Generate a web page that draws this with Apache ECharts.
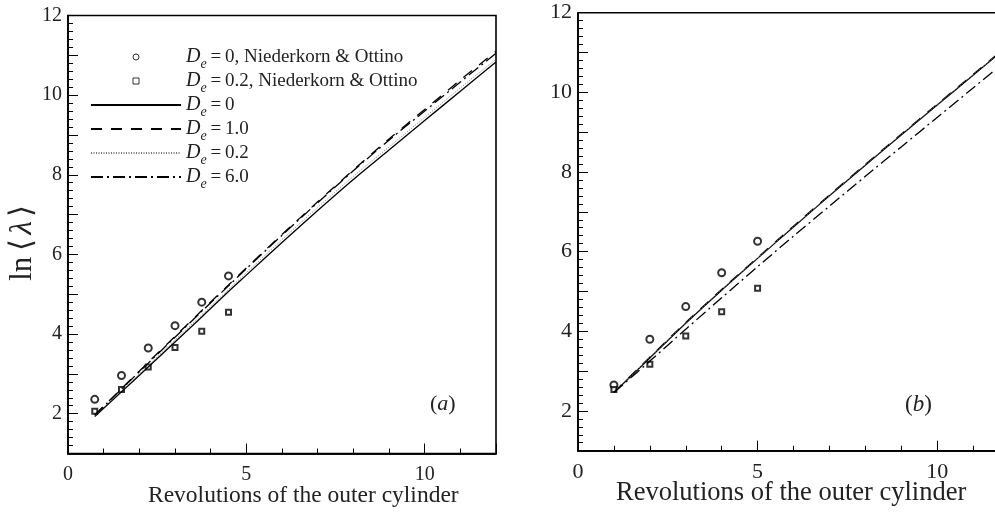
<!DOCTYPE html>
<html>
<head>
<meta charset="utf-8">
<script src="https://cdn.jsdelivr.net/npm/echarts@6/dist/echarts.min.js"></script>
<style>
  html, body { margin: 0; background: #fff; }
  #main { width: 995px; height: 519px; }
</style>
</head>
<body>
<div id="main"></div>
<script>
// panel (a): Niederkorn & Ottino points and computed curves
var obsXA = [0.75, 1.5, 2.25, 3, 3.75, 4.5];
var circA = [2.36, 2.96, 3.65, 4.21, 4.80, 5.46];
var sqA = [2.06, 2.61, 3.17, 3.66, 4.07, 4.55];
var simXA = [0.75, 1.5, 2.25, 3, 3.75, 4.5, 5, 6, 7, 8, 9, 10, 11, 12];
var solidA = [1.93, 2.55, 3.17, 3.8, 4.43, 5.07, 5.48, 6.3, 7.1, 7.88, 8.62, 9.36, 10.1, 10.83];
var dashA = [1.97, 2.63, 3.29, 3.94, 4.59, 5.23, 5.66, 6.5, 7.32, 8.12, 8.9, 9.64, 10.38, 11.1];
var dotA = [1.94, 2.58, 3.21, 3.85, 4.48, 5.12, 5.54, 6.37, 7.18, 7.96, 8.7, 9.44, 10.18, 10.9];
var dashDotA = [1.96, 2.62, 3.27, 3.92, 4.57, 5.21, 5.64, 6.48, 7.3, 8.1, 8.87, 9.6, 10.33, 11.05];

// panel (b)
var obsXB = [1, 2, 3, 4, 5];
var circB = [2.65, 3.8, 4.62, 5.47, 6.26];
var sqB = [2.54, 3.17, 3.88, 4.49, 5.08];
var simXB = [1, 2, 3, 4, 5, 6, 7, 8, 9, 10, 11, 12];
var solidB = [2.46, 3.33, 4.2, 5.03, 5.83, 6.62, 7.4, 8.17, 8.93, 9.68, 10.43, 11.18];
var dashB = [2.47, 3.35, 4.22, 5.05, 5.85, 6.64, 7.42, 8.19, 8.95, 9.7, 10.45, 11.2];
var dotB = [2.47, 3.34, 4.21, 5.04, 5.84, 6.63, 7.41, 8.18, 8.94, 9.69, 10.44, 11.19];
var dashDotB = [2.46, 3.25, 4.05, 4.84, 5.62, 6.39, 7.14, 7.89, 8.63, 9.37, 10.11, 10.85];

var xTickLabels = [0, 5, 10];
var yTickLabels = [2, 4, 6, 8, 10, 12];

var FONT = 'Liberation Serif';
var legendText = {
  circ: '{d|D}{s|e}{t|\u2009=\u20090, Niederkorn & Ottino}',
  sq: '{d|D}{s|e}{t|\u2009=\u20090.2, Niederkorn & Ottino}',
  solid: '{d|D}{s|e}{t|\u2009=\u20090}',
  dash: '{d|D}{s|e}{t|\u2009=\u20091.0}',
  dot: '{d|D}{s|e}{t|\u2009=\u20090.2}',
  dashdot: '{d|D}{s|e}{t|\u2009=\u20096.0}'
};

function pairs(xs, ys) {
  return xs.map(function (x, i) { return [x, ys[i]]; });
}

var panels = [
  { left: 68, top: 15.5, width: 428, height: 438 },
  { left: 578, top: 12.7, width: 431, height: 438 }
];
var labelSize = [20, 22];

var grids = [], xAxes = [], yAxes = [], series = [];

// grids 0,1: frames, labels and data; grids 2,3: same rectangles, ticks only
panels.forEach(function (p, gi) {
  grids.push({
    left: p.left, top: p.top, width: p.width, height: p.height,
    show: true, borderColor: '#000', borderWidth: 1.6,
    outerBoundsMode: 'none', containLabel: false
  });
  xAxes.push({
    type: 'value', gridIndex: gi, min: 0, max: 12, interval: 1,
    axisLine: { show: false },
    splitLine: { show: false },
    axisTick: { show: false },
    axisLabel: {
      margin: 11, fontFamily: FONT, fontSize: labelSize[gi], color: '#222',
      formatter: function (v) { return xTickLabels.indexOf(v) >= 0 ? String(v) : ''; }
    }
  });
  yAxes.push({
    type: 'value', gridIndex: gi, min: 1, max: 12, interval: 1,
    axisLine: { show: false },
    splitLine: { show: false },
    axisTick: { show: false },
    axisLabel: {
      margin: 6, fontFamily: FONT, fontSize: labelSize[gi], color: '#222',
      formatter: function (v) { return yTickLabels.indexOf(v) >= 0 ? String(v) : ''; }
    }
  });
});

panels.forEach(function (p, pi) {
  var gi = pi + 2;
  grids.push({
    left: p.left, top: p.top, width: p.width, height: p.height,
    show: false, outerBoundsMode: 'none', containLabel: false
  });
  // short ticks every revolution
  xAxes.push({
    type: 'value', gridIndex: gi, min: 0, max: 12, interval: 1,
    axisLine: { show: true, onZero: false, lineStyle: { color: '#000', width: 1.6 } },
    splitLine: { show: false },
    axisTick: { show: true, inside: true, length: 5, lineStyle: { color: '#000', width: 1 } },
    axisLabel: { show: false }
  });
  // top axis moved onto the bottom edge for the long ticks at 0, 5, 10
  xAxes.push({
    type: 'value', gridIndex: gi, position: 'top', offset: -p.height,
    min: 0, max: 12, interval: 5,
    axisLine: { show: true, onZero: false, lineStyle: { color: '#000', width: 1.6 } },
    splitLine: { show: false },
    axisTick: { show: true, inside: false, length: 10, lineStyle: { color: '#000', width: 1 } },
    axisLabel: { show: false }
  });
  yAxes.push({
    type: 'value', gridIndex: gi, min: 1, max: 12, interval: 1,
    axisLine: { show: true, onZero: false, lineStyle: { color: '#000', width: 1.6 } },
    splitLine: { show: false },
    axisTick: { show: true, inside: true, length: 10, lineStyle: { color: '#000', width: 1 } },
    minorTick: { show: true, splitNumber: 5, length: 5, lineStyle: { color: '#000', width: 1 } },
    axisLabel: { show: false }
  });
});

function addPanel(gi, obsX, circ, sq, simX, solid, dash, dot, dashDot) {
  series.push({
    name: 'circ', type: 'scatter', xAxisIndex: gi, yAxisIndex: gi,
    symbol: 'emptyCircle', symbolSize: 7,
    itemStyle: { color: '#000', borderColor: '#000', borderWidth: 1 },
    data: pairs(obsX, circ)
  });
  series.push({
    name: 'sq', type: 'scatter', xAxisIndex: gi, yAxisIndex: gi,
    symbol: 'emptyRect', symbolSize: 5,
    itemStyle: { color: '#000', borderColor: '#000', borderWidth: 1 },
    data: pairs(obsX, sq)
  });
  var lines = [
    ['solid', solid, 'solid', '#000', 1.3],
    ['dash', dash, [11, 9], '#000', 1.3],
    ['dot', dot, [1, 1.5], '#777', 1],
    ['dashdot', dashDot, [12, 4, 2, 4], '#000', 1.3]
  ];
  lines.forEach(function (l) {
    series.push({
      name: l[0], type: 'line', xAxisIndex: gi, yAxisIndex: gi,
      symbol: 'none', smooth: 0.3,
      lineStyle: { color: l[3], width: l[4], type: l[2] },
      itemStyle: { color: l[3] },
      data: pairs(simX, l[1])
    });
  });
}

addPanel(0, obsXA, circA, sqA, simXA, solidA, dashA, dotA, dashDotA);
addPanel(1, obsXB, circB, sqB, simXB, solidB, dashB, dotB, dashDotB);

var richLegend = {
  d: { fontFamily: FONT, fontStyle: 'italic', fontSize: 20, lineHeight: 20, color: '#222' },
  s: { fontFamily: FONT, fontStyle: 'italic', fontSize: 14, lineHeight: 14, padding: [14, 0, 0, 0], color: '#222' },
  t: { fontFamily: FONT, fontSize: 19, lineHeight: 20, color: '#222' }
};
var noDot = { color: 'transparent', borderColor: 'transparent', borderWidth: 0 };
var hollow = { color: '#fff', borderColor: '#000', borderWidth: 1 };

var chart = echarts.init(document.getElementById('main'));
chart.setOption({
  animation: false,
  grid: grids,
  xAxis: xAxes,
  yAxis: yAxes,
  legend: {
    left: 90, top: 43, orient: 'vertical', padding: 0,
    itemWidth: 90, itemHeight: 6, itemGap: -4,
    selectedMode: false,
    data: [
      { name: 'circ', icon: 'circle', itemStyle: hollow },
      { name: 'sq', icon: 'path://M0,0L10,0L10,10L0,10Z', itemStyle: hollow },
      { name: 'solid', itemStyle: noDot },
      { name: 'dash', itemStyle: noDot },
      { name: 'dot', itemStyle: noDot },
      { name: 'dashdot', itemStyle: noDot }
    ],
    formatter: function (name) { return legendText[name]; },
    textStyle: { rich: richLegend }
  },
  graphic: [
    {
      type: 'text', left: 148, top: 484,
      style: { text: 'Revolutions of the outer cylinder', font: '23.5px "Liberation Serif"', fill: '#222' }
    },
    {
      type: 'text', left: 616, top: 480,
      style: { text: 'Revolutions of the outer cylinder', font: '26.5px "Liberation Serif"', fill: '#222' }
    },
    {
      type: 'text', x: 23, y: 243, rotation: Math.PI / 2,
      style: {
        text: '{n|ln\u2009}{n|\u27e8}{l|\u03bb}{n|\u27e9}',
        align: 'center', verticalAlign: 'middle',
        rich: {
          n: { fontFamily: FONT, fontSize: 31, fill: '#222' },
          l: { fontFamily: FONT, fontStyle: 'italic', fontSize: 31, fill: '#222', padding: [0, 4, 0, 4] }
        }
      }
    },
    {
      type: 'text', x: 430, y: 393,
      style: {
        text: '{p|(}{i|a}{p|)}',
        rich: {
          p: { fontFamily: FONT, fontSize: 22, fill: '#222' },
          i: { fontFamily: FONT, fontStyle: 'italic', fontSize: 22, fill: '#222' }
        }
      }
    },
    {
      type: 'text', x: 905, y: 393,
      style: {
        text: '{p|(}{i|b}{p|)}',
        rich: {
          p: { fontFamily: FONT, fontSize: 23, fill: '#222' },
          i: { fontFamily: FONT, fontStyle: 'italic', fontSize: 23, fill: '#222' }
        }
      }
    }
  ],
  series: series
});
</script>
</body>
</html>
